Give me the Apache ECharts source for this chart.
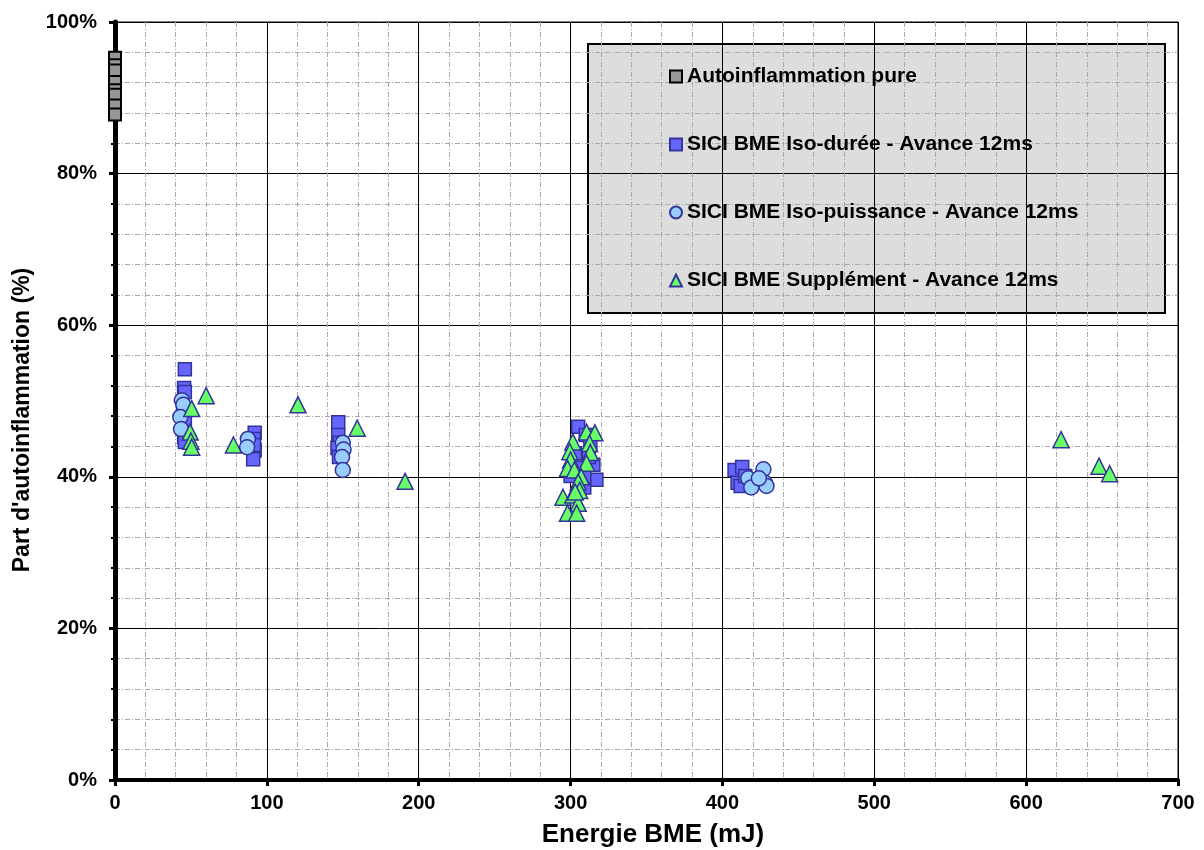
<!DOCTYPE html>
<html><head><meta charset="utf-8">
<script src="https://cdn.jsdelivr.net/npm/echarts@6/dist/echarts.min.js"></script>
<style>html,body{margin:0;padding:0;background:#fff}#c{width:1204px;height:850px}</style>
</head><body><div id="c"></div>
<script>
// ---- data ----
const xTicks = [0,100,200,300,400,500,600,700];
const yTicks = [0,20,40,60,80,100];
const seriesNames = ['Autoinflammation pure','SICI BME Iso-durée - Avance 12ms','SICI BME Iso-puissance - Avance 12ms','SICI BME Supplément - Avance 12ms'];
const purePts = [[0,95.3],[0,94.3],[0,93.6],[0,92.1],[0,91.0],[0,90.4],[0,89.0],[0,87.8]];
const isoDureePts = [[46,54.2],[45.5,51.7],[46,51.2],[45,49.0],[46,47.2],[45.5,45.2],[46,44.6],
  [92,45.8],[91.5,45.0],[92,43.5],[91,42.3],[91.5,44.2],
  [147,47.2],[147,45.5],[148,44.5],[146.5,43.8],[147.5,42.6],
  [305,46.6],[310,45.5],[313,44.2],[303,43.1],[315,41.6],[312,42.6],[317,39.6],[309,38.6],[300,40.1],[306,41.2],[309,40.0],
  [408,40.9],[413,41.3],[410,39.2],[412,38.8],[415,40.1]];
const isoPuissancePts = [[44,50.1],[45,49.5],[43,47.9],[43.5,46.3],
  [87.5,45.0],[87,43.9],
  [150,44.5],[150.5,43.6],[149.5,42.6],[150,40.9],
  [417,39.8],[419,38.6],[427,41.0],[428,39.2],[429,38.8],[424,39.8]];
const supplementPts = [[60,50.7],[50.5,49.0],[49.5,45.9],[50,44.7],[50.5,43.9],[78,44.2],
  [120.5,49.5],[159.5,46.4],[191,39.4],
  [310.5,45.9],[316,45.8],[301.5,44.6],[312.5,44.4],[299.5,43.3],[313,43.2],[300,42.2],[310.5,41.8],[298,41.1],[302.5,40.9],[307,40.0],[305,39.3],
  [295,37.3],[301.5,37.6],[305,36.5],[298,35.2],[304,35.2],[306,38.2],[303,38.0],
  [623,44.9],[648,41.4],[655,40.4]];
// ---- chart ----
const FONT = 'Arial, "Liberation Sans", sans-serif';
const chart = echarts.init(document.getElementById('c'));
const edge = '#333399';
function legendAt(name, top){
  return {data:[name], left:669, top:top, padding:0, orient:'vertical', itemWidth:12, itemHeight:12, itemGap:0,
    textStyle:{fontFamily:FONT, fontWeight:'bold', fontSize:21, color:'#000'},
    selectedMode:false};
}
chart.setOption({
  animation:false,
  backgroundColor:'#fff',
  grid:{left:115, top:22, width:1063, height:758, show:true, borderColor:'#000', borderWidth:1, containLabel:false, outerBoundsMode:'none'},
  graphic:[{type:'rect', shape:{x:588, y:44, width:577, height:269}, style:{fill:'#dddddd', stroke:'#000', lineWidth:2}, z:-1}],
  legend:[legendAt(seriesNames[0],66), legendAt(seriesNames[1],134), legendAt(seriesNames[2],202), legendAt(seriesNames[3],270)],
  xAxis:{type:'value', min:xTicks[0], max:xTicks[xTicks.length-1], interval:100,
    name:'Energie BME (mJ)', nameLocation:'middle', nameGap:42,
    nameTextStyle:{fontFamily:FONT, fontWeight:'bold', fontSize:26, color:'#000', padding:[0,0,0,13]},
    axisLine:{show:true, lineStyle:{color:'#000', width:4}},
    axisTick:{show:true, inside:false, length:6, lineStyle:{color:'#000', width:3}},
    axisLabel:{fontFamily:FONT, fontWeight:'bold', fontSize:20, color:'#000', margin:13},
    splitLine:{show:true, lineStyle:{color:'#000', width:1}},
    minorTick:{show:false, splitNumber:5},
    minorSplitLine:{show:true, lineStyle:{color:'#aaa', width:1, type:[5,2,1,2]}}},
  yAxis:{type:'value', min:yTicks[0], max:yTicks[yTicks.length-1], interval:20,
    name:"Part d'autoinflammation (%)", nameLocation:'middle', nameGap:81,
    nameTextStyle:{fontFamily:FONT, fontWeight:'bold', fontSize:23, color:'#000', padding:[0,38,0,0]},
    axisLine:{show:true, lineStyle:{color:'#000', width:5}},
    axisTick:{show:true, inside:false, length:6, lineStyle:{color:'#000', width:3}},
    axisLabel:{fontFamily:FONT, fontWeight:'bold', fontSize:20, color:'#000', margin:18, formatter:'{value}%'},
    splitLine:{show:true, lineStyle:{color:'#000', width:1}},
    minorTick:{show:true, splitNumber:5, length:4, lineStyle:{color:'#000', width:2}},
    minorSplitLine:{show:true, lineStyle:{color:'#aaa', width:1, type:[5,2,1,2]}}},
  series:[
    {name:seriesNames[0], type:'scatter', data:purePts, symbol:'rect', symbolSize:12,
      itemStyle:{color:'#969696', borderColor:'#000', borderWidth:2, opacity:1}},
    {name:seriesNames[1], type:'scatter', data:isoDureePts, symbol:'rect', symbolSize:13,
      itemStyle:{color:'#6666FF', borderColor:edge, borderWidth:1.5, opacity:1}},
    {name:seriesNames[2], type:'scatter', data:isoPuissancePts, symbol:'circle', symbolSize:15,
      itemStyle:{color:'#99CCFF', borderColor:edge, borderWidth:1.5, opacity:1}},
    {name:seriesNames[3], type:'scatter', data:supplementPts, symbol:'triangle', symbolSize:16,
      itemStyle:{color:'#66FF66', borderColor:edge, borderWidth:1.5, opacity:1}}
  ]
});
</script></body></html>
